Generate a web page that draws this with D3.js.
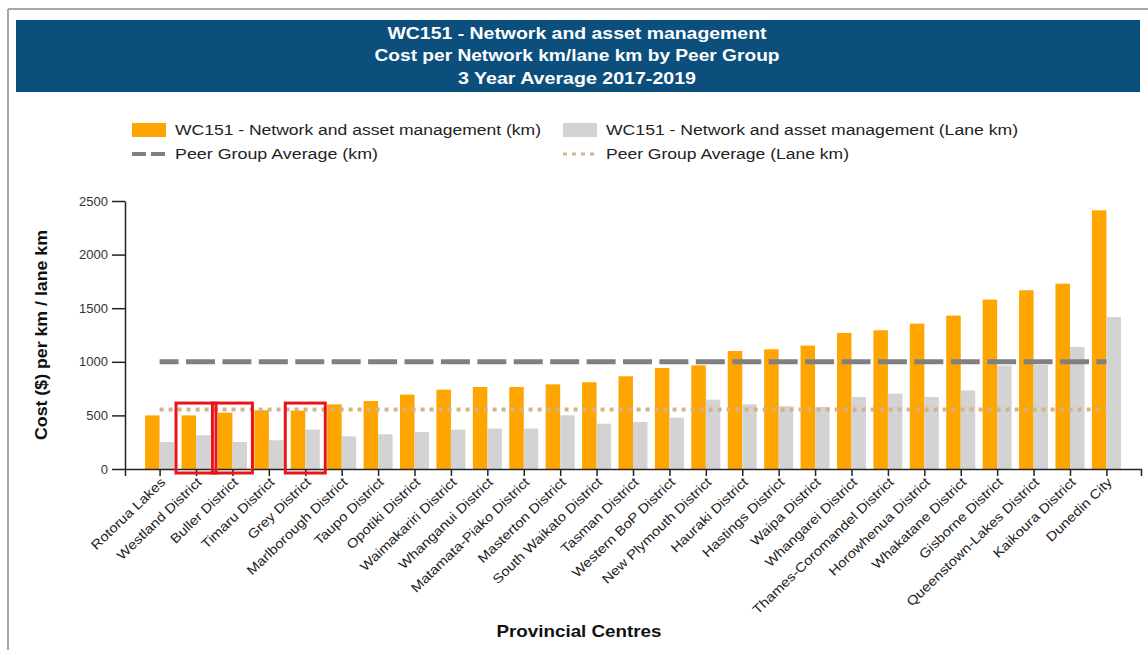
<!DOCTYPE html>
<html><head><meta charset="utf-8">
<script src="https://cdn.jsdelivr.net/npm/d3@7"></script>
<style>body{margin:0;background:#fff;} svg{display:block;font-family:"Liberation Sans",Arial,sans-serif;}</style>
</head><body><svg id="chart" width="1148" height="650"></svg>
<script>
const categories = ["Rotorua Lakes","Westland District","Buller District","Timaru District","Grey District","Marlborough District","Taupo District","Opotiki District","Waimakariri District","Whanganui District","Matamata-Piako District","Masterton District","South Waikato District","Tasman District","Western BoP District","New Plymouth District","Hauraki District","Hastings District","Waipa District","Whangarei District","Thames-Coromandel District","Horowhenua District","Whakatane District","Gisborne District","Queenstown-Lakes District","Kaikoura District","Dunedin City"];
const kmValues   = [500,500,525,548,545,603,634,694,740,765,765,790,809,865,942,967,1101,1117,1151,1269,1294,1356,1431,1580,1667,1729,2413];
const laneValues = [252,315,252,268,367,305,324,345,367,377,377,501,423,439,479,647,603,585,578,672,703,672,734,965,970,1138,1418];
const peerAvgKm = 1000;
const peerAvgLane = 555;
const yTicks = [0,500,1000,1500,2000,2500];
const titleLines = ["WC151 - Network and asset management","Cost per Network km/lane km by Peer Group","3 Year Average 2017-2019"];
const legendLabels = ["WC151 - Network and asset management (km)","WC151 - Network and asset management (Lane km)","Peer Group Average (km)","Peer Group Average (Lane km)"];
const highlighted = ["Westland District","Buller District","Grey District"];
const xTitle = "Provincial Centres";
const yTitle = "Cost ($) per km / lane km";

const svg = d3.select("#chart");
const ORANGE = "#ffa500", GRAY = "#d3d3d3", DASH = "#808080", DOT = "#d2b48c";

// frame
svg.append("line").attr("x1",8).attr("y1",9).attr("x2",1148).attr("y2",9).attr("stroke","#a6a6a6").attr("stroke-width",2);
svg.append("line").attr("x1",8).attr("y1",9).attr("x2",8).attr("y2",650).attr("stroke","#a6a6a6").attr("stroke-width",2);

// title banner
svg.append("rect").attr("x",16).attr("y",20).attr("width",1124).attr("height",72).attr("fill","#0c4f7d");
const titleLens = [379,405,238];
svg.selectAll("text.title").data(titleLines).join("text").attr("class","title")
  .attr("x",577).attr("y",(d,i)=>38.5+i*22.5).attr("text-anchor","middle")
  .attr("fill","#fff").attr("font-weight","bold").attr("font-size",16)
  .attr("textLength",(d,i)=>titleLens[i]).attr("lengthAdjust","spacingAndGlyphs").text(d=>d);

// scales
const x = d3.scalePoint().domain(categories).range([125,1141]).padding(0.95);
const sub = d3.scaleBand().domain(["km","lane"]).range([-14.5,14.5]);
const y = d3.scaleLinear().domain([0,2500]).range([469,201]);

// bars
const g = svg.append("g");
g.selectAll("rect.km").data(categories).join("rect").attr("class","km")
  .attr("x",c=>x(c)+sub("km")).attr("width",sub.bandwidth())
  .attr("y",(c,i)=>y(kmValues[i])).attr("height",(c,i)=>y(0)-y(kmValues[i])).attr("fill",ORANGE);
g.selectAll("rect.lane").data(categories).join("rect").attr("class","lane")
  .attr("x",c=>x(c)+sub("lane")).attr("width",sub.bandwidth())
  .attr("y",(c,i)=>y(laneValues[i])).attr("height",(c,i)=>y(0)-y(laneValues[i])).attr("fill",GRAY);

// average lines
const lineKm = d3.line().x(c=>x(c)).y(()=>y(peerAvgKm));
const lineLane = d3.line().x(c=>x(c)).y(()=>y(peerAvgLane));
svg.append("path").attr("d",lineKm(categories)).attr("fill","none").attr("stroke",DASH).attr("stroke-width",5)
  .attr("stroke-dasharray",`29,${x.step()-29}`).attr("stroke-dashoffset",10);
svg.append("path").attr("d",lineLane(categories)).attr("fill","none").attr("stroke",DOT).attr("stroke-width",4)
  .attr("stroke-dasharray","4,5");

// axes
const yAxis = svg.append("g").attr("transform","translate(125,0)")
  .call(d3.axisLeft(y).tickValues(yTicks).tickFormat(d3.format("d")).tickSize(13).tickPadding(4).tickSizeOuter(0));
yAxis.selectAll("text").attr("font-size",13).attr("fill","#333").attr("font-family","Liberation Sans, Arial, sans-serif");
yAxis.selectAll("line,path").attr("stroke","#222").attr("stroke-width",1.5);

const xAxis = svg.append("g").attr("transform",`translate(0,${y(0)})`)
  .call(d3.axisBottom(x).tickSize(7).tickSizeOuter(7));
xAxis.selectAll("line,path").attr("stroke","#222").attr("stroke-width",1.5);
xAxis.selectAll("text").attr("font-size",13).attr("fill","#222").attr("font-family","Liberation Sans, Arial, sans-serif")
  .attr("text-anchor","end").attr("x",0).attr("y",0).attr("dy",0)
  .attr("transform","translate(6,14) rotate(-44) scale(1.15,1)");

// red highlight boxes
svg.selectAll("rect.hl").data(highlighted).join("rect").attr("class","hl")
  .attr("x",c=>x(c)-20).attr("width",40).attr("y",y(615)).attr("height",473-y(615))
  .attr("fill","none").attr("stroke","#e8141c").attr("stroke-width",3);

// legend
const lg = svg.append("g");
const legPos = [[132,130],[563,130],[132,154],[563,154]];
const legLens = [366,412,203,243];
lg.append("rect").attr("x",legPos[0][0]).attr("y",123).attr("width",34).attr("height",14).attr("fill",ORANGE);
lg.append("rect").attr("x",legPos[1][0]).attr("y",123).attr("width",34).attr("height",14).attr("fill",GRAY);
lg.append("line").attr("x1",132).attr("x2",166).attr("y1",154).attr("y2",154).attr("stroke",DASH).attr("stroke-width",4).attr("stroke-dasharray","14,5");
lg.append("line").attr("x1",563).attr("x2",597).attr("y1",154).attr("y2",154).attr("stroke",DOT).attr("stroke-width",3).attr("stroke-dasharray","4,5");
lg.selectAll("text").data(legendLabels).join("text")
  .attr("x",(d,i)=>legPos[i][0]+43).attr("y",(d,i)=>legPos[i][1]+5)
  .attr("font-size",14).attr("fill","#222")
  .attr("textLength",(d,i)=>legLens[i]).attr("lengthAdjust","spacingAndGlyphs").text(d=>d);

// axis titles
svg.append("text").attr("transform","translate(47,335) rotate(-90)").attr("text-anchor","middle")
  .attr("font-weight","bold").attr("font-size",16).attr("fill","#111")
  .attr("textLength",210).attr("lengthAdjust","spacingAndGlyphs").text(yTitle);
svg.append("text").attr("x",579).attr("y",637).attr("text-anchor","middle")
  .attr("font-weight","bold").attr("font-size",17).attr("fill","#111")
  .attr("textLength",165).attr("lengthAdjust","spacingAndGlyphs").text(xTitle);
</script></body></html>
